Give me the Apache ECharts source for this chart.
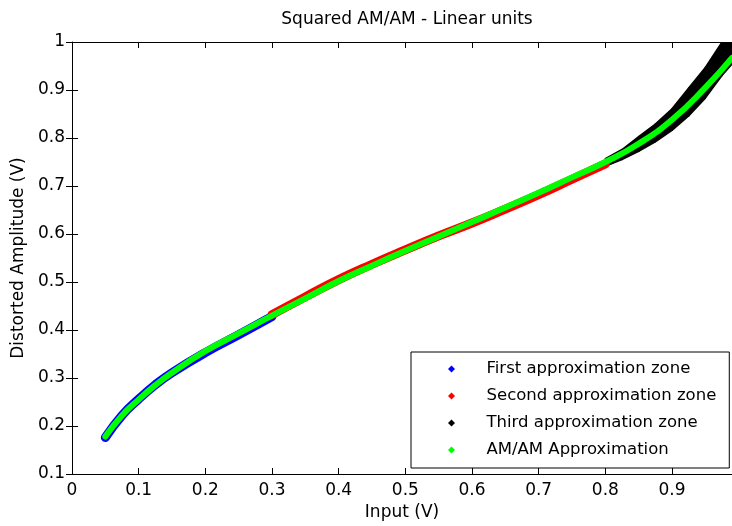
<!DOCTYPE html>
<html><head><meta charset="utf-8">
<script src="https://cdn.jsdelivr.net/npm/echarts@6/dist/echarts.min.js"></script>
<style>html,body{margin:0;padding:0;background:#fff}#c{width:732px;height:526px}</style>
</head><body><div id="c"></div>
<script>
const chartTitle = 'Squared AM/AM - Linear units';
const xName = 'Input (V)';
const yName = 'Distorted Amplitude (V)';
const seriesNames = ['First approximation zone', 'Second approximation zone', 'Third approximation zone', 'AM/AM Approximation'];
const xTickLabels = ['0', '0.1', '0.2', '0.3', '0.4', '0.5', '0.6', '0.7', '0.8', '0.9'];
const yTickLabels = ['0.1', '0.2', '0.3', '0.4', '0.5', '0.6', '0.7', '0.8', '0.9', '1'];

const zone1X = [0.05, 0.075, 0.1, 0.125, 0.15, 0.2, 0.25, 0.3];
const zone1Y = [0.176, 0.222, 0.256, 0.286, 0.311, 0.353, 0.390, 0.428];
const zone2X = [0.3, 0.35, 0.4, 0.45, 0.5, 0.55, 0.6, 0.65, 0.7, 0.75, 0.8];
const zone2Y = [0.432, 0.469, 0.505, 0.537, 0.567, 0.596, 0.623, 0.652, 0.682, 0.714, 0.746];
const zone3X = [0.8, 0.825, 0.85, 0.875, 0.9, 0.925, 0.95, 0.975, 0.99];
const zone3Low = [0.741, 0.755, 0.772, 0.792, 0.816, 0.846, 0.883, 0.930, 0.954];
const zone3High = [0.757, 0.776, 0.803, 0.829, 0.861, 0.904, 0.947, 1.005, 1.04];
const approxX = [0.05, 0.075, 0.1, 0.125, 0.15, 0.2, 0.25, 0.3, 0.35, 0.4, 0.45, 0.5, 0.55, 0.6, 0.65, 0.7, 0.75, 0.8, 0.85, 0.9, 0.95, 0.99];
const approxY = [0.178, 0.222, 0.255, 0.285, 0.311, 0.356, 0.393, 0.430, 0.466, 0.502, 0.534, 0.565, 0.595, 0.625, 0.655, 0.686, 0.718, 0.750, 0.788, 0.838, 0.905, 0.967];

const colors = ['#0000ff', '#ff0000', '#000000', '#00ff00'];
const FONT = 'DejaVu Sans';
const pairs = (xs, ys) => xs.map((x, i) => [x, ys[i]]);
const xMin = parseFloat(xTickLabels[0]), xStep = parseFloat(xTickLabels[1]) - xMin;
const yMin = parseFloat(yTickLabels[0]), yMax = parseFloat(yTickLabels[yTickLabels.length - 1]);
const yStep = parseFloat(yTickLabels[1]) - yMin;
const xMax = 0.99;

const chart = echarts.init(document.getElementById('c'), null, {renderer: 'canvas'});
const axisCommon = {
  axisLine: {show: true, onZero: false, lineStyle: {color: '#000', width: 1}},
  axisTick: {show: true, inside: true, length: 6, lineStyle: {color: '#000'}},
  splitLine: {show: false}
};
const xFmt = v => { const i = Math.round((v - xMin) / xStep); return Math.abs(xMin + i * xStep - v) < 1e-6 && xTickLabels[i] !== undefined ? xTickLabels[i] : ''; };
const yFmt = v => { const i = Math.round((v - yMin) / yStep); return yTickLabels[i] !== undefined ? yTickLabels[i] : ''; };
const diamond = 'path://M0,-1L1,0L0,1L-1,0Z';

chart.setOption({
  animation: false,
  backgroundColor: '#fff',
  title: {
    text: chartTitle, left: 402, top: 6, textAlign: 'center',
    textStyle: {fontFamily: FONT, fontSize: 17, fontWeight: 'normal', color: '#000'}
  },
  grid: {left: 72, right: 0, top: 42, bottom: 51, containLabel: false},
  legend: {
    data: seriesNames.map((n, i) => ({name: n, icon: diamond, itemStyle: {color: colors[i]}})),
    orient: 'vertical', left: 411, top: 352,
    padding: [7, 13, 8, 37],
    itemWidth: 60, itemHeight: 7, itemGap: 7,
    borderColor: '#000', borderWidth: 1, backgroundColor: '#fff',
    textStyle: {fontFamily: FONT, fontSize: 16.5, color: '#000', lineHeight: 20},
    selectedMode: false
  },
  xAxis: [
    Object.assign({}, axisCommon, {
      type: 'value', min: xMin, max: xMax, interval: xStep, position: 'bottom',
      name: xName, nameLocation: 'middle', nameGap: 30,
      nameTextStyle: {fontFamily: FONT, fontSize: 17, color: '#000'},
      axisLabel: {fontFamily: FONT, fontSize: 17, color: '#000', margin: 8, formatter: xFmt, showMaxLabel: false}
    }),
    Object.assign({}, axisCommon, {
      type: 'value', min: xMin, max: xMax, interval: xStep, position: 'top',
      axisLabel: {show: false}
    })
  ],
  yAxis: [
    Object.assign({}, axisCommon, {
      type: 'value', min: yMin, max: yMax, interval: yStep, position: 'left',
      name: yName, nameLocation: 'middle', nameGap: 44,
      nameTextStyle: {fontFamily: FONT, fontSize: 17, color: '#000'},
      axisLabel: {fontFamily: FONT, fontSize: 17, color: '#000', margin: 7, formatter: yFmt}
    }),
    Object.assign({}, axisCommon, {
      type: 'value', min: yMin, max: yMax, interval: yStep, position: 'right',
      axisLine: {show: false},
      axisLabel: {show: false}
    })
  ],
  series: [
    {
      name: seriesNames[0], type: 'line', data: pairs(zone1X, zone1Y), smooth: true, showSymbol: false,
      color: colors[0], lineStyle: {color: colors[0], width: 9, cap: 'round'}, z: 2
    },
    {
      name: seriesNames[1], type: 'line', data: pairs(zone2X, zone2Y), smooth: true, showSymbol: false,
      color: colors[1], lineStyle: {color: colors[1], width: 9, cap: 'round'}, z: 2
    },
    {
      name: seriesNames[2], type: 'custom', color: colors[2], clip: true, z: 2,
      data: zone3X.map((x, i) => [x, zone3Low[i], zone3High[i]]),
      encode: {x: 0, y: [1, 2]},
      renderItem: (params, api) => {
        const i = params.dataIndex;
        if (i >= zone3X.length - 1) return null;
        const cs = params.coordSys;
        const clampY = p => [p[0], Math.max(cs.y, p[1])];
        const pts = [
          api.coord([zone3X[i], zone3Low[i]]),
          api.coord([zone3X[i + 1], zone3Low[i + 1]]),
          api.coord([zone3X[i + 1], zone3High[i + 1]]),
          api.coord([zone3X[i], zone3High[i]])
        ].map(clampY);
        return {type: 'polygon', shape: {points: pts}, style: {fill: colors[2], stroke: colors[2], lineWidth: 1.5, lineJoin: 'round'}};
      }
    },
    {
      name: seriesNames[3], type: 'line', data: pairs(approxX, approxY), smooth: true, showSymbol: false,
      color: colors[3], lineStyle: {color: colors[3], width: 6, cap: 'round'}, z: 3
    }
  ]
});
</script></body></html>
